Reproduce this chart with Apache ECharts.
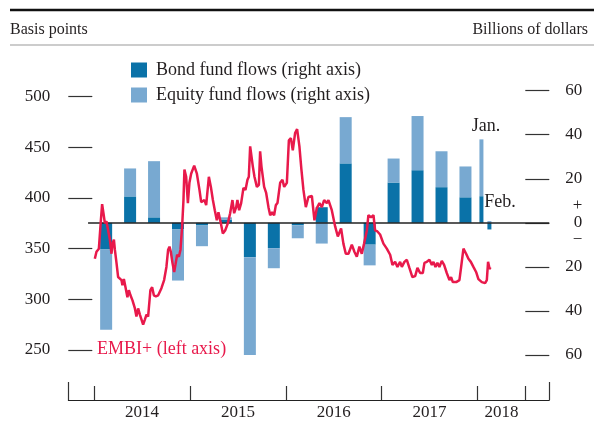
<!DOCTYPE html>
<html>
<head>
<meta charset="utf-8">
<script src="https://cdn.jsdelivr.net/npm/echarts@6/dist/echarts.min.js"></script>
<style>
  html, body { margin: 0; padding: 0; background: #fff; }
  #chart { width: 604px; height: 425px; }
</style>
</head>
<body>
<div id="chart"></div>
<script>
// Quarterly mutual fund flows into emerging market funds, billions of dollars
const quarters = ['2014-Q1','2014-Q2','2014-Q3','2014-Q4','2015-Q1','2015-Q2','2015-Q3','2015-Q4',
                  '2016-Q1','2016-Q2','2016-Q3','2016-Q4','2017-Q1','2017-Q2','2017-Q3','2017-Q4'];
const bondQuarterly   = [-12.1, 12.0, 2.5, -3.0, -1.2, 1.5, -15.6, -11.5, -1.1, 7.1, 27.0, -9.9, 18.3, 23.9, 16.2, 11.6];
const equityQuarterly = [-36.4, 12.7, 25.5, -23.2, -9.4, 1.0, -44.6, -9.1, -5.9, -9.4, 21.0, -9.4, 10.9, 24.6, 16.3, 14.0];

// Monthly flows for the latest months
const months = ['2018-01', '2018-02'];
const bondMonthly   = [12.1, -3.0];
const equityMonthly = [25.8, 0.8];

// EMBI+ spread, basis points (dates as decimal years)
const embiDates = [
  2014.007, 2014.024, 2014.049, 2014.070, 2014.083, 2014.097, 2014.112, 2014.128, 2014.146, 2014.164,
  2014.181, 2014.191, 2014.206, 2014.216, 2014.233, 2014.250, 2014.268, 2014.285, 2014.295, 2014.310,
  2014.327, 2014.347, 2014.362, 2014.379, 2014.400, 2014.425, 2014.441, 2014.459, 2014.477, 2014.494,
  2014.511, 2014.529, 2014.546, 2014.563, 2014.587, 2014.605, 2014.623, 2014.644, 2014.668, 2014.686,
  2014.702, 2014.730, 2014.754, 2014.772, 2014.786, 2014.800, 2014.817, 2014.835, 2014.848, 2014.866,
  2014.884, 2014.901, 2014.918, 2014.932, 2014.942, 2014.960, 2014.978, 2014.994, 2015.012, 2015.044,
  2015.072, 2015.099, 2015.117, 2015.134, 2015.151, 2015.169, 2015.197, 2015.218, 2015.239, 2015.259,
  2015.280, 2015.297, 2015.322, 2015.343, 2015.367, 2015.395, 2015.419, 2015.443, 2015.461, 2015.482,
  2015.495, 2015.513, 2015.534, 2015.558, 2015.579, 2015.600, 2015.614, 2015.628, 2015.641, 2015.656,
  2015.673, 2015.698, 2015.719, 2015.732, 2015.746, 2015.774, 2015.795, 2015.819, 2015.837, 2015.857,
  2015.878, 2015.896, 2015.913, 2015.941, 2015.965, 2015.983, 2016.011, 2016.032, 2016.053, 2016.073,
  2016.097, 2016.118, 2016.142, 2016.163, 2016.184, 2016.209, 2016.236, 2016.272, 2016.299, 2016.324,
  2016.351, 2016.376, 2016.400, 2016.428, 2016.445, 2016.480, 2016.515, 2016.543, 2016.577, 2016.601,
  2016.626, 2016.654, 2016.689, 2016.716, 2016.741, 2016.768, 2016.793, 2016.817, 2016.846, 2016.862,
  2016.890, 2016.915, 2016.932, 2016.956, 2016.984, 2017.019, 2017.054, 2017.089, 2017.113, 2017.141,
  2017.165, 2017.193, 2017.211, 2017.238, 2017.263, 2017.290, 2017.321, 2017.350, 2017.374, 2017.402,
  2017.430, 2017.447, 2017.472, 2017.499, 2017.524, 2017.541, 2017.562, 2017.582, 2017.603, 2017.628,
  2017.652, 2017.680, 2017.708, 2017.725, 2017.743, 2017.778, 2017.812, 2017.830, 2017.854, 2017.882,
  2017.906, 2017.931, 2017.958, 2017.986, 2018.010, 2018.046, 2018.080, 2018.098, 2018.111, 2018.125,
  2018.140
];
const embiSpread = [
  340, 347, 350, 378, 394, 385, 375, 377, 368, 359,
  345, 355, 359, 349, 336, 322, 321, 319, 314, 320,
  312, 302, 309, 304, 299, 291, 283, 291, 285, 280,
  275, 280, 285, 283, 309, 312, 304, 303, 304, 303,
  311, 319, 332, 349, 352, 347, 336, 327, 334, 344,
  342, 349, 372, 398, 428, 421, 395, 415, 424, 432,
  424, 408, 396, 395, 398, 393, 421, 411, 398, 388,
  378, 386, 375, 365, 368, 375, 385, 398, 385, 391,
  398, 388, 395, 410, 408, 418, 421, 451, 451, 431,
  421, 411, 413, 446, 431, 411, 405, 391, 383, 386,
  383, 393, 395, 415, 418, 411, 415, 457, 459, 447,
  464, 468, 451, 428, 408, 391, 401, 402, 378, 390,
  395, 391, 398, 395, 398, 388, 372, 362, 370, 355,
  345, 345, 354, 347, 342, 352, 345, 355, 368, 383,
  381, 383, 368, 367, 364, 355, 350, 344, 334, 337,
  332, 337, 332, 337, 339, 331, 322, 323, 331, 326,
  326, 336, 337, 339, 334, 337, 332, 336, 332, 338,
  334, 326, 319, 322, 317, 317, 319, 332, 350, 345,
  340, 337, 332, 327, 320, 317, 316, 319, 337, 331,
  330
];

// Axis settings
const X_MIN = 2013.73, X_MAX = 2018.75;
const yearTicks = [2014, 2015, 2016, 2017, 2018, 2018.5];
const yearLabels = [2014.5, 2015.5, 2016.5, 2017.5, 2018.25];

const FONT = '"Liberation Serif", "Times New Roman", serif';
const TEXT = '#231F20';
const BOND = '#0A72A8';
const EQUITY = '#78A9D1';
const RED = '#E8194B';
const GRID_LEFT = 68.3, GRID_RIGHT = 54.7;
const PX_PER_YEAR = 95.83;

const BOND_NAME = 'Bond fund flows (right axis)';
const EQUITY_NAME = 'Equity fund flows (right axis)';

// Monthly category axis for the flow bars: Oct 2013 through Sep 2018
const monthAxis = [];
for (let y = 2013, m = 10; y < 2018 || (y === 2018 && m <= 9); m++) {
  if (m > 12) { m = 1; y++; }
  if (y === 2018 && m > 9) break;
  monthAxis.push(y + '-' + String(m).padStart(2, '0'));
}
// A quarter's bar sits on its middle month
const quarterMonth = q => { const [y, k] = q.split('-Q'); return y + '-' + String(3 * k - 1).padStart(2, '0'); };
const onMonths = (keys, values) => {
  const out = monthAxis.map(() => null);
  keys.forEach((k, i) => { out[monthAxis.indexOf(k)] = values[i]; });
  return out;
};
const quarterKeys = quarters.map(quarterMonth);

const pairs = (xs, ys) => xs.map((x, i) => [x, ys[i]]);
const tickStyle = { color: '#333', width: 1.2 };
const labelFont = { fontFamily: FONT, fontSize: 17, color: TEXT };
// the monthly axis starts at Oct 2013, slightly right of the date axis start
const barGridLeft = GRID_LEFT + (2013.75 - X_MIN) * PX_PER_YEAR;

const chart = echarts.init(document.getElementById('chart'), null, { renderer: 'canvas' });

chart.setOption({
  animation: false,
  backgroundColor: '#fff',
  grid: [
    { left: GRID_LEFT, right: GRID_RIGHT, top: 96.7, height: 253.3 },   // EMBI+ spread
    { left: barGridLeft, right: GRID_RIGHT, top: 90.7, height: 264.3 }, // fund flows
    { left: GRID_LEFT, right: GRID_RIGHT, top: 380, height: 20 }        // date axis
  ],
  xAxis: [
    { type: 'value', gridIndex: 0, min: X_MIN, max: X_MAX, show: false },
    { type: 'category', gridIndex: 1, data: monthAxis, show: false },
    { type: 'category', gridIndex: 1, data: monthAxis, show: false },
    {
      type: 'value', gridIndex: 2, min: X_MIN, max: X_MAX, position: 'bottom',
      axisLine: { onZero: false, lineStyle: { color: '#222', width: 1 } },
      axisTick: { inside: true, length: 14, customValues: yearTicks, lineStyle: tickStyle },
      axisLabel: Object.assign({ customValues: yearLabels, margin: 4,
        formatter: v => String(Math.floor(v)) }, labelFont),
      splitLine: { show: false }
    },
    {
      type: 'value', gridIndex: 2, min: X_MIN, max: X_MAX, position: 'bottom',
      axisLine: { show: false, onZero: false },
      axisTick: { inside: true, length: 18, customValues: [X_MIN, X_MAX], lineStyle: tickStyle },
      axisLabel: { show: false },
      splitLine: { show: false }
    },
    {
      // zero line of the flows panel
      type: 'value', gridIndex: 1, min: X_MIN, max: X_MAX, show: false
    }
  ],
  yAxis: [
    {
      type: 'value', gridIndex: 0, min: 250, max: 500, interval: 50, position: 'left',
      axisLine: { show: false },
      axisTick: { show: true, inside: true, length: 24, lineStyle: tickStyle },
      axisLabel: Object.assign({ margin: 18 }, labelFont),
      splitLine: { show: false }
    },
    {
      type: 'value', gridIndex: 1, min: -60, max: 60, interval: 20, position: 'right',
      axisLine: { show: false },
      axisTick: { show: true, inside: true, length: 24, lineStyle: tickStyle },
      axisLabel: Object.assign({
        align: 'right', margin: 33, lineHeight: 17,
        formatter: v => v === 0 ? '+\n0\n\u2212' : String(Math.abs(v))
      }, labelFont),
      splitLine: { show: false }
    },
    { type: 'value', gridIndex: 2, show: false }
  ],
  legend: {
    data: [BOND_NAME, EQUITY_NAME],
    orient: 'vertical', left: 131, top: 61, padding: 0,
    itemWidth: 16, itemHeight: 15, itemGap: 7, icon: 'rect',
    selectedMode: false,
    textStyle: { fontFamily: FONT, fontSize: 18, color: TEXT, padding: [0, 0, 0, 4] }
  },
  series: [
    {
      name: BOND_NAME, type: 'bar', xAxisIndex: 1, yAxisIndex: 1, stack: 'quarterly',
      barWidth: 12, itemStyle: { color: BOND },
      data: onMonths(quarterKeys, bondQuarterly)
    },
    {
      name: EQUITY_NAME, type: 'bar', xAxisIndex: 1, yAxisIndex: 1, stack: 'quarterly',
      barWidth: 12, itemStyle: { color: EQUITY },
      data: onMonths(quarterKeys, equityQuarterly)
    },
    {
      name: BOND_NAME, type: 'bar', xAxisIndex: 2, yAxisIndex: 1, stack: 'monthly',
      barWidth: 4, itemStyle: { color: BOND },
      data: onMonths(months, bondMonthly)
    },
    {
      name: EQUITY_NAME, type: 'bar', xAxisIndex: 2, yAxisIndex: 1, stack: 'monthly',
      barWidth: 4, itemStyle: { color: EQUITY },
      data: onMonths(months, equityMonthly)
    },
    {
      type: 'line', xAxisIndex: 5, yAxisIndex: 1, data: [], silent: true,
      markLine: {
        silent: true, symbol: ['none', 'none'], label: { show: false },
        lineStyle: { color: '#222', width: 1.5, type: 'solid' },
        data: [[{ coord: [2013.917, 0] }, { coord: [X_MAX, 0] }]]
      }
    },
    {
      name: 'EMBI+', type: 'line', xAxisIndex: 0, yAxisIndex: 0, z: 10,
      showSymbol: false, smooth: false,
      lineStyle: { color: RED, width: 2.5 },
      data: pairs(embiDates, embiSpread)
    }
  ],
  graphic: [
    { type: 'line', shape: { x1: 10, y1: 10, x2: 594, y2: 10 }, style: { stroke: '#111', lineWidth: 2.5 } },
    { type: 'line', shape: { x1: 10, y1: 45, x2: 594, y2: 45 }, style: { stroke: '#999', lineWidth: 1 } },
    { type: 'text', x: 10, y: 30, style: { text: 'Basis points', font: '16px ' + FONT, fill: TEXT, textVerticalAlign: 'middle' } },
    { type: 'text', x: 588, y: 30, style: { text: 'Billions of dollars', font: '16px ' + FONT, fill: TEXT, textAlign: 'right', textVerticalAlign: 'middle' } },
    { type: 'text', x: 486, y: 126, style: { text: 'Jan.', font: '18px ' + FONT, fill: TEXT, textAlign: 'center', textVerticalAlign: 'middle' } },
    { type: 'text', x: 500, y: 202, style: { text: 'Feb.', font: '18px ' + FONT, fill: TEXT, textAlign: 'center', textVerticalAlign: 'middle' } },
    { type: 'text', x: 97, y: 349, style: { text: 'EMBI+ (left axis)', font: '18px ' + FONT, fill: RED, textVerticalAlign: 'middle' } }
  ]
});
</script>
</body>
</html>
